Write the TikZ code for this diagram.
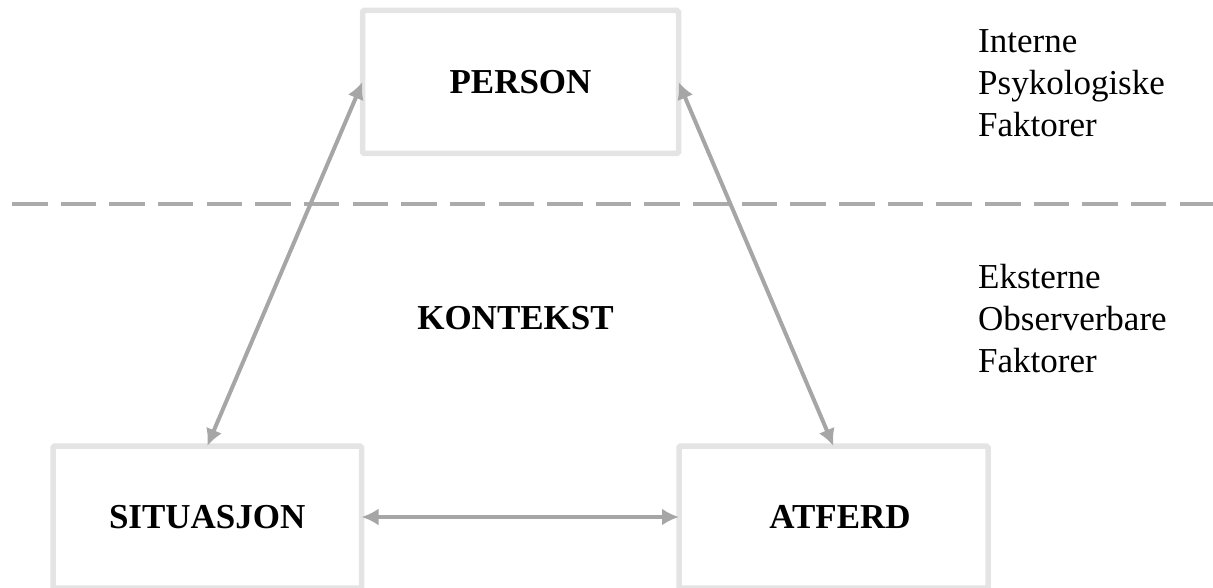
\documentclass[tikz,border=0pt]{standalone}
\usepackage{fontspec}
\setmainfont{Liberation Serif}
\usetikzlibrary{arrows.meta}
\definecolor{boxgray}{HTML}{E4E4E4}
\definecolor{arrowgray}{HTML}{A6A6A6}
\definecolor{dashgray}{HTML}{ABABAB}
\begin{document}
\begin{tikzpicture}[x=1pt,y=-1pt,
  every node/.style={font=\fontsize{35}{42}\selectfont},
  factorbox/.style={draw=boxgray, line width=5.5pt, rounded corners=1.5pt,
    outer sep=0pt, inner sep=0pt, font=\fontsize{35}{42}\selectfont\bfseries},
  link/.style={draw=arrowgray, line width=4pt,
    {Latex[length=17pt,width=17pt]}-{Latex[length=17pt,width=17pt]}},
  divider/.style={draw=dashgray, line width=4pt, dash pattern=on 35.5pt off 13.15pt},
  sidenote/.style={anchor=base west, align=left, inner sep=0pt}]
  \useasboundingbox (0,0) rectangle (1213,588);

  % the three factor boxes
  \node[factorbox, minimum width=316pt, minimum height=143pt] (person) at (520.5,82) {PERSON};
  \node[factorbox, minimum width=308.5pt, minimum height=142pt] (sit) at (207.25,517) {SITUASJON};
  \node[factorbox, minimum width=309pt, minimum height=142pt] (atf) at (833.5,517) {\hspace*{13pt}ATFERD};

  % boundary between internal and external factors
  \coordinate (divL) at (12,204);
  \coordinate (divR) at (1213,204);
  \draw[divider] (divL) -- (divR);

  \node[font=\fontsize{35}{42}\selectfont\bfseries, inner sep=0pt] (ctx) at (515.5,318.5) {KONTEKST};

  % reciprocal relations
  \draw[link] (sit.north) -- (person.west);
  \draw[link] (atf.north) -- (person.east);
  \draw[link] (sit.east) -- (atf.west);

  % side notes (anchored at the baseline of their last line)
  \node[sidenote] (intern) at (978,137) {Interne\\Psykologiske\\Faktorer};
  \node[sidenote] (extern) at (978,372) {Eksterne\\Observerbare\\Faktorer};
\end{tikzpicture}
\end{document}
